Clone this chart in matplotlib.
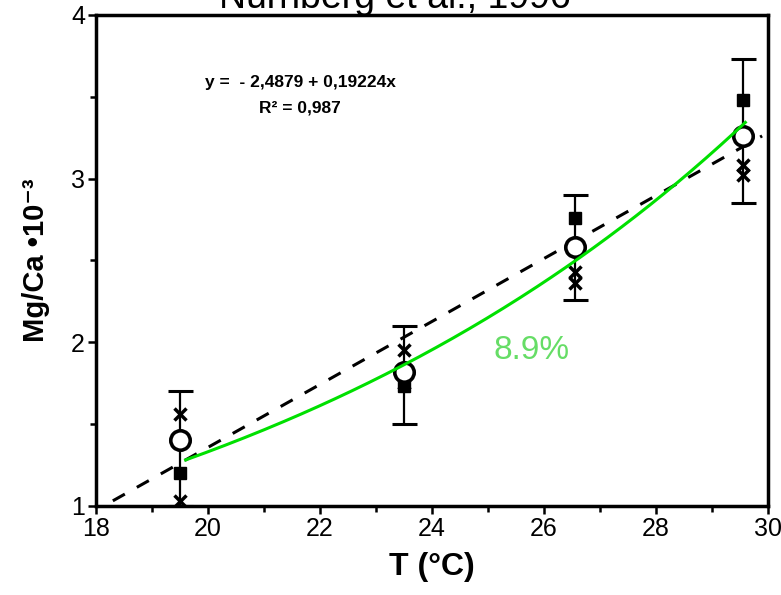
import numpy as np
import matplotlib
matplotlib.use("Agg")
import matplotlib.pyplot as plt

plt.rcParams['font.family'] = ['Liberation Sans', 'DejaVu Sans']

# temperatures of the four sample groups
temps = [19.5, 23.5, 26.55, 29.55]
# marker values
squares = [1.20, 1.73, 2.76, 3.48]
circles = [1.40, 1.82, 2.58, 3.26]
crosses_a = [1.56, 1.95, 2.43, 3.08]
crosses_b = [1.03, 1.75, 2.36, 3.02]
# error bar ends
err_low = [1.00, 1.50, 2.26, 2.85]
err_high = [1.70, 2.10, 2.90, 3.73]

# linear regression from the paper
intercept = -2.4879
slope = 0.19224
lin_range = [18.3, 29.9]

# exponential fit (green)
exp_a = 0.195
exp_k = 0.096
exp_range = [19.6, 29.6]

fig = plt.figure(figsize=(7.81, 5.95), dpi=100)
ax = fig.add_axes([0.123, 0.150, 0.860, 0.825])

# dashed regression line
lx = np.array(lin_range)
ax.plot(lx, intercept + slope * lx, color='black', lw=2.2, ls=(0, (4.5, 4.5)), zorder=2)

# error bars
yerr = [np.array(circles) - np.array(err_low), np.array(err_high) - np.array(circles)]
ax.errorbar(temps, circles, yerr=yerr, fmt='none', ecolor='black', elinewidth=1.6,
            capsize=9, capthick=2.2, zorder=3)

ax.plot(temps, squares, 's', color='black', ms=9, zorder=4)
ax.plot(temps, crosses_a, 'x', color='black', ms=9, mew=2.5, zorder=4)
ax.plot(temps, crosses_b, 'x', color='black', ms=9, mew=2.5, zorder=4)
ax.plot(temps, circles, 'o', mfc='white', mec='black', ms=14, mew=2.6, zorder=5)

# green exponential curve
gx = np.linspace(exp_range[0], exp_range[1], 200)
ax.plot(gx, exp_a * np.exp(exp_k * gx), color='#00e000', lw=2.2, zorder=6)

ax.text(25.78, 1.95, '8.9%', color='#66dd66', fontsize=24, ha='center', va='center')

ax.text(21.65, 3.585, 'y =  - 2,4879 + 0,19224x', fontsize=12.5, fontweight='bold',
        ha='center', va='center')
ax.text(21.65, 3.43, 'R² = 0,987', fontsize=12.5, fontweight='bold',
        ha='center', va='center')

ax.set_xlim(18, 30)
ax.set_ylim(1, 4)
ax.set_xticks(range(18, 31, 2))
ax.set_xticks(range(18, 31), minor=True)
ax.set_yticks([1, 2, 3, 4])
ax.set_yticks(np.arange(1, 4.01, 0.5), minor=True)
ax.tick_params(which='both', direction='out', width=1.8, labelsize=18, pad=2)
ax.tick_params(which='major', length=6)
ax.tick_params(which='minor', length=4)
for s in ax.spines.values():
    s.set_linewidth(2.5)

ax.set_xlabel('T (°C)', fontsize=23, fontweight='bold', labelpad=8)
ax.set_ylabel('Mg/Ca •10⁻³', fontsize=21, fontweight='bold', labelpad=15)

fig.text(0.505, 0.987, 'Nürnberg et al., 1996', fontsize=27, ha='center', va='baseline')

fig.savefig('out.png', dpi=100)
